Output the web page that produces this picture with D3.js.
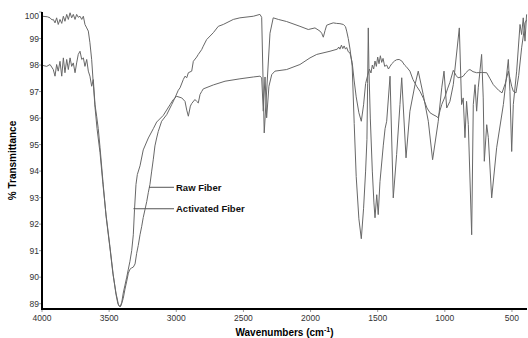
<!DOCTYPE html>
<html lang="en">
<head>
<meta charset="utf-8">
<script src="https://d3js.org/d3.v7.min.js"></script>
<style>
body { margin: 0; background: #fff; font-family: "Liberation Sans", Arial, sans-serif; }
.tick-label { font-size: 8.5px; fill: #333; }
.title { font-size: 10px; font-weight: bold; fill: #000; }
.note { font-size: 9.5px; font-weight: bold; fill: #111; }
.spectrum { fill: none; stroke: #686868; stroke-width: 1; stroke-linejoin: round; }
</style>
</head>
<body>
<div id="chart"></div>
<script>
// FTIR spectra: [wavenumber (cm-1), % transmittance]
var rawFiber = [
  [3998,99.84],[3960,99.82],[3940,99.78],[3925,99.70],[3916,99.72],[3903,99.59],[3891,99.78],[3879,99.53],
  [3866,99.72],[3853,99.57],[3841,99.84],[3829,99.65],[3816,99.91],[3804,99.72],[3791,99.97],[3779,99.78],
  [3767,99.91],[3754,99.72],[3742,99.91],[3730,99.80],[3717,99.84],[3704,99.72],[3692,99.84],[3680,99.53],
  [3667,99.40],[3655,99.28],[3643,98.84],[3630,98.20],[3618,97.30],[3605,96.40],[3590,95.60],[3568,94.70],
  [3546,93.50],[3523,92.35],[3494,91.15],[3471,90.15],[3449,89.35],[3435,89.00],[3424,88.90],[3412,88.92],
  [3395,89.20],[3382,89.55],[3369,89.85],[3357,90.15],[3345,90.30],[3332,90.35],[3320,90.38],[3307,90.50],
  [3295,90.90],[3283,91.20],[3270,91.60],[3258,91.90],[3246,92.25],[3233,92.55],[3220,92.85],[3208,93.20],
  [3196,93.50],[3183,94.00],[3171,94.45],[3159,94.95],[3146,95.25],[3134,95.50],[3109,95.88],[3071,96.13],
  [3034,96.51],[3010,96.76],[2985,97.05],[2972,97.14],[2948,97.45],[2935,97.58],[2922,97.52],[2910,97.71],
  [2885,97.77],[2873,98.14],[2848,98.30],[2836,98.40],[2811,98.58],[2799,98.71],[2774,98.96],[2724,99.22],
  [2687,99.46],[2650,99.53],[2575,99.72],[2526,99.78],[2426,99.84],[2377,99.91],[2364,99.80],[2345,95.44],
  [2302,99.20],[2278,99.78],[2240,99.72],[2178,99.64],[2079,99.46],[2017,99.34],[1967,99.40],[1930,99.28],
  [1917,99.20],[1905,99.05],[1892,99.30],[1880,99.50],[1855,99.55],[1831,99.59],[1806,99.57],[1781,99.56],
  [1756,99.53],[1740,99.45],[1731,99.28],[1719,99.00],[1706,98.60],[1690,97.96],[1675,95.80],[1660,93.80],
  [1640,92.20],[1622,91.45],[1605,92.60],[1590,94.00],[1580,95.20],[1575,97.30],[1570,99.40],[1565,97.80],
  [1555,96.00],[1540,94.00],[1528,92.80],[1520,92.24],[1507,93.11],[1496,92.36],[1483,93.60],[1458,94.98],
  [1445,95.60],[1433,95.88],[1408,97.58],[1384,92.99],[1359,94.62],[1334,96.51],[1321,97.52],[1289,94.50],
  [1260,96.26],[1222,97.26],[1198,97.77],[1161,96.89],[1123,95.88],[1091,94.43],[1049,95.88],[1023,97.14],
  [1006,97.77],[986,96.38],[962,96.63],[937,97.26],[892,99.40],[875,96.51],[863,96.76],[850,95.26],
  [838,96.63],[825,95.75],[800,91.60],[788,96.51],[775,97.26],[763,96.26],[751,97.14],[726,98.40],
  [714,96.76],[706,94.37],[688,95.75],[676,95.26],[651,92.99],[614,94.88],[564,96.51],[527,98.21],
  [515,97.01],[502,94.74],[490,96.51],[465,97.77],[440,99.53],[428,99.15],[416,99.78],[403,98.90],[391,99.91]
];

var activatedFiber = [
  [3998,97.99],[3965,97.95],[3940,98.02],[3916,97.83],[3903,97.58],[3891,98.02],[3879,97.77],[3866,98.14],
  [3853,97.58],[3841,98.27],[3829,97.71],[3816,98.21],[3804,97.83],[3791,98.27],[3779,97.95],[3767,98.08],
  [3754,97.71],[3742,98.08],[3730,98.40],[3717,98.52],[3704,98.21],[3692,98.27],[3680,97.95],[3667,98.21],
  [3655,97.77],[3643,97.58],[3630,97.20],[3618,97.45],[3605,96.50],[3593,96.07],[3581,95.60],[3568,94.90],
  [3546,93.60],[3523,92.30],[3494,91.10],[3471,90.10],[3449,89.40],[3430,88.95],[3418,88.88],[3406,89.05],
  [3395,89.40],[3382,89.70],[3369,90.00],[3357,90.30],[3345,90.60],[3332,91.00],[3320,91.60],[3311,92.55],
  [3300,93.50],[3290,93.87],[3270,94.20],[3246,94.80],[3208,95.25],[3171,95.60],[3146,95.85],[3097,96.10],
  [3047,96.50],[3022,96.70],[2997,96.82],[2972,96.78],[2959,96.76],[2935,96.63],[2922,96.30],[2910,96.07],
  [2895,96.45],[2885,96.55],[2861,96.70],[2848,96.63],[2836,96.57],[2823,96.89],[2811,97.00],[2799,97.10],
  [2724,97.25],[2637,97.39],[2526,97.48],[2426,97.55],[2377,97.58],[2364,97.52],[2352,96.26],[2339,97.55],
  [2327,96.01],[2310,97.20],[2289,97.64],[2265,97.77],[2178,97.83],[2079,98.02],[2004,98.27],[1954,98.40],
  [1855,98.52],[1800,98.60],[1790,98.68],[1781,98.60],[1770,98.75],[1760,98.62],[1750,98.72],[1740,98.60],
  [1731,98.66],[1719,98.50],[1706,98.45],[1690,98.10],[1675,97.40],[1660,96.80],[1640,96.20],[1622,95.88],
  [1605,96.50],[1590,97.30],[1575,97.60],[1562,97.85],[1550,97.70],[1540,98.00],[1530,97.85],[1520,98.15],
  [1510,97.95],[1500,98.30],[1490,98.05],[1480,98.35],[1470,98.10],[1460,98.25],[1448,97.95],[1433,98.00],
  [1420,97.85],[1408,97.95],[1395,98.05],[1375,98.15],[1359,98.20],[1340,98.21],[1320,98.15],[1300,98.00],
  [1289,97.95],[1260,97.77],[1237,97.45],[1210,97.20],[1185,97.01],[1160,96.75],[1133,96.38],[1110,96.20],
  [1088,96.13],[1065,96.07],[1049,96.01],[1035,96.30],[1023,96.51],[999,96.80],[980,97.10],[962,97.35],
  [937,97.80],[915,97.60],[902,97.52],[875,97.55],[863,97.58],[845,97.70],[825,97.80],[813,97.83],
  [790,97.75],[763,97.71],[725,97.72],[688,97.71],[665,97.50],[639,97.26],[600,97.05],[574,96.95],
  [550,97.30],[527,97.77],[515,97.50],[502,97.20],[490,97.01],[470,96.95],[450,97.60],[428,98.65],
  [410,99.30],[403,99.59],[391,99.70]
];

var xTicks = [4000, 3500, 3000, 2500, 2000, 1500, 1000, 500];
var yTicks = [89, 90, 91, 92, 93, 94, 95, 96, 97, 98, 99, 100];

var width = 528, height = 338;
var plotLeft = 42, plotRight = 527, plotTop = 12, plotBottom = 309;

var x = d3.scaleLinear().domain([4000, 388]).range([plotLeft, plotRight]);
var y = d3.scaleLinear().domain([88.8, 100]).range([plotBottom, plotTop]);

var svg = d3.select("#chart").append("svg")
  .attr("width", width)
  .attr("height", height);

var line = d3.line()
  .x(function(d) { return x(d[0]); })
  .y(function(d) { return y(d[1]); });

svg.append("path").datum(activatedFiber).attr("class", "spectrum").attr("d", line);
svg.append("path").datum(rawFiber).attr("class", "spectrum").attr("d", line);

// x ticks + labels
var xg = svg.append("g");
xg.selectAll("line").data(xTicks).enter().append("line")
  .attr("x1", function(d) { return x(d); }).attr("x2", function(d) { return x(d); })
  .attr("y1", plotBottom).attr("y2", plotBottom + 3)
  .attr("stroke", "#999").attr("stroke-width", 1);
xg.selectAll("text").data(xTicks).enter().append("text")
  .attr("class", "tick-label")
  .attr("x", function(d) { return x(d); })
  .attr("y", plotBottom + 12)
  .attr("text-anchor", "middle")
  .text(function(d) { return d; });

// y ticks + labels (top label sits a bit lower, as in the original)
var yg = svg.append("g");
yg.selectAll("line").data(yTicks).enter().append("line")
  .attr("x1", plotLeft - 3).attr("x2", plotLeft)
  .attr("y1", function(d) { return y(d); }).attr("y2", function(d) { return y(d); })
  .attr("stroke", "#999").attr("stroke-width", 1);
yg.selectAll("text").data(yTicks).enter().append("text")
  .attr("class", "tick-label")
  .attr("x", plotLeft - 3)
  .attr("y", function(d) { return y(d) + (d === 100 ? 7 : 3); })
  .attr("text-anchor", "end")
  .text(function(d) { return d; });

// axis lines
svg.append("line").attr("x1", plotLeft).attr("x2", plotLeft).attr("y1", plotTop).attr("y2", plotBottom + 1)
  .attr("stroke", "#000").attr("stroke-width", 2);
svg.append("line").attr("x1", plotLeft - 1).attr("x2", plotRight).attr("y1", plotBottom).attr("y2", plotBottom)
  .attr("stroke", "#000").attr("stroke-width", 2);

// axis titles
svg.append("text").attr("class", "title")
  .attr("transform", "translate(16," + ((plotTop + plotBottom) / 2) + ") rotate(-90)")
  .attr("text-anchor", "middle")
  .text("% Transmittance");

var xt = svg.append("text").attr("class", "title")
  .attr("x", (plotLeft + plotRight) / 2).attr("y", 336)
  .attr("text-anchor", "middle");
xt.append("tspan").text("Wavenumbers (cm");
xt.append("tspan").attr("dy", -4).attr("font-size", "7px").text("-1");
xt.append("tspan").attr("dy", 4).text(")");

// callouts
var notes = [
  { name: "Raw Fiber", at: [3203, 93.39] },
  { name: "Activated Fiber", at: [3319, 92.58] }
];
var labelX = 174;
notes.forEach(function(n) {
  var py = y(n.at[1]);
  svg.append("line")
    .attr("x1", x(n.at[0])).attr("x2", labelX)
    .attr("y1", py).attr("y2", py)
    .attr("stroke", "#555").attr("stroke-width", 1);
  svg.append("text").attr("class", "note")
    .attr("x", labelX + 2).attr("y", py + 3.5)
    .text(n.name);
});
</script>
</body>
</html>
